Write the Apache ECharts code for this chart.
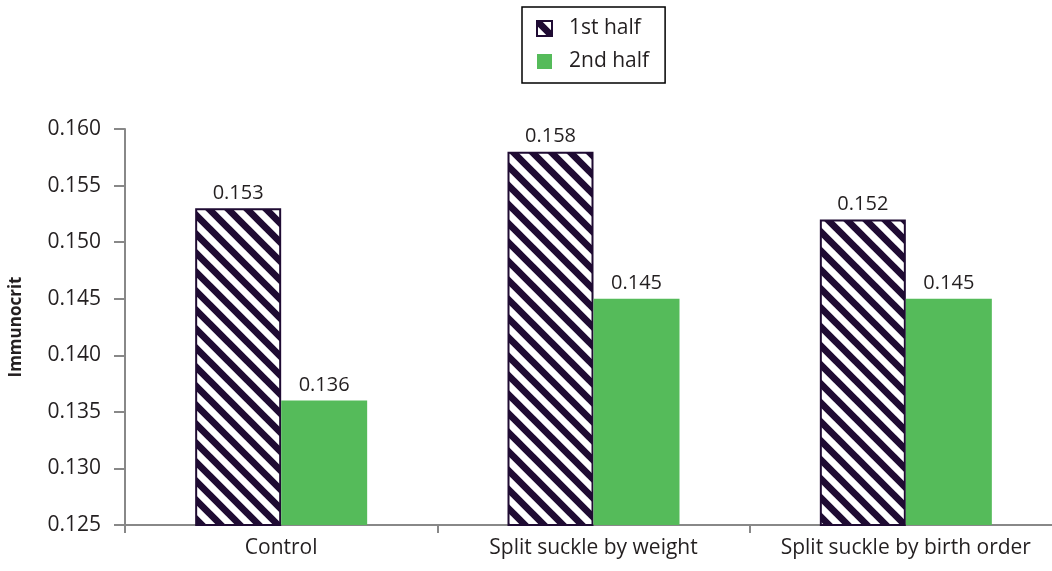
<!DOCTYPE html>
<html>
<head>
<meta charset="utf-8">
<script src="https://cdn.jsdelivr.net/npm/echarts@6/dist/echarts.min.js"></script>
<style>
html,body{margin:0;padding:0;background:#fff;}
#chart{width:1052px;height:571px;}
</style>
</head>
<body>
<div id="chart"></div>
<script>
const categories = ['Control', 'Split suckle by weight', 'Split suckle by birth order'];
const firstHalf = [0.153, 0.158, 0.152];
const secondHalf = [0.136, 0.145, 0.145];
const seriesNames = ['1st half', '2nd half'];
const yTicks = { min: 0.125, max: 0.160, interval: 0.005 };

const DARK = '#1f0b33';
const GREEN = '#55bb5a';
const TEXT = '#231f20';
const FONT = '"Open Sans", "Noto Sans", sans-serif';

function makeHatch() {
  const s = 19;
  const c = document.createElement('canvas');
  c.width = s; c.height = s;
  const ctx = c.getContext('2d');
  ctx.fillStyle = '#ffffff';
  ctx.fillRect(0, 0, s, s);
  ctx.strokeStyle = DARK;
  ctx.lineWidth = 6.8;
  ctx.lineCap = 'square';
  for (const k of [-s, 0, s]) {
    ctx.beginPath();
    ctx.moveTo(k - 2, -2);
    ctx.lineTo(k + s + 2, s + 2);
    ctx.stroke();
  }
  return c;
}

const chart = echarts.init(document.getElementById('chart'), null, { renderer: 'canvas' });
const hatch = { image: makeHatch(), repeat: 'repeat' };

const labelStyle = {
  show: true,
  position: 'top',
  distance: 5,
  color: TEXT,
  fontSize: 20,
  fontFamily: FONT,
  formatter: p => p.value.toFixed(3)
};

chart.setOption({
  animation: false,
  backgroundColor: '#ffffff',
  textStyle: { fontFamily: FONT, color: TEXT },
  legend: {
    data: seriesNames,
    orient: 'vertical',
    left: 522,
    top: 7,
    padding: [11, 16, 11, 14],
    itemGap: 12,
    itemWidth: 15,
    itemHeight: 15,
    icon: 'rect',
    borderColor: '#000',
    borderWidth: 1.5,
    textStyle: { fontSize: 21, color: TEXT, fontFamily: FONT, padding: [0, 0, 0, 12] }
  },
  grid: { left: 125, top: 129, width: 937, height: 396, outerBoundsMode: 'none', containLabel: false },
  xAxis: {
    type: 'category',
    data: categories,
    axisLine: { lineStyle: { color: '#888', width: 2 } },
    axisTick: { show: true, length: 8, lineStyle: { color: '#888', width: 2 } },
    axisLabel: { color: TEXT, fontSize: 21, fontFamily: FONT, margin: 13, interval: 0, hideOverlap: false }
  },
  yAxis: {
    type: 'value',
    min: yTicks.min,
    max: yTicks.max,
    interval: yTicks.interval,
    name: 'Immunocrit',
    nameLocation: 'middle',
    nameGap: 100,
    nameTextStyle: { fontSize: 17, fontWeight: 'bold', color: TEXT, fontFamily: FONT },
    axisLine: { show: true, lineStyle: { color: '#888', width: 2 } },
    axisTick: { show: true, length: 11, lineStyle: { color: '#888', width: 2 } },
    splitLine: { show: false },
    axisLabel: { color: TEXT, fontSize: 21, fontFamily: FONT, margin: 24, formatter: v => v.toFixed(3) }
  },
  series: [
    {
      name: seriesNames[0],
      type: 'bar',
      data: firstHalf,
      barWidth: 86,
      barGap: '0%',
      itemStyle: { color: hatch, borderColor: DARK, borderWidth: 2 },
      label: labelStyle
    },
    {
      name: seriesNames[1],
      type: 'bar',
      data: secondHalf,
      barWidth: 86,
      itemStyle: { color: GREEN },
      label: labelStyle
    }
  ]
});
</script>
</body>
</html>
